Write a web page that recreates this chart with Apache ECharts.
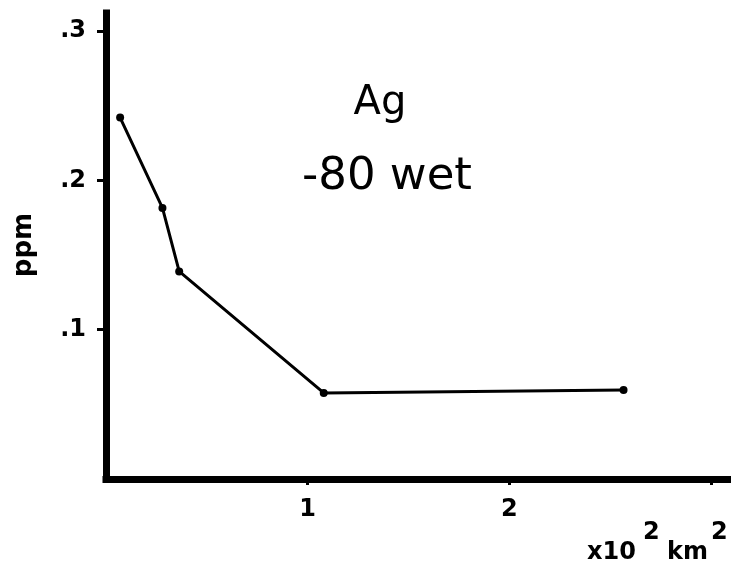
<!DOCTYPE html>
<html><head><meta charset="utf-8">
<script src="https://cdn.jsdelivr.net/npm/echarts@6/dist/echarts.min.js"></script>
<style>html,body{margin:0;padding:0;background:#fff}#c{width:731px;height:571px}</style>
</head><body><div id="c"></div>
<script>
// Data
const areaX = [0.07, 0.28, 0.363, 1.08, 2.567];      // x10^2 km^2
const ppmY  = [0.242, 0.1815, 0.139, 0.0576, 0.0596]; // ppm
const xTickValues = [1, 2, 3];
const xLabelValues = [1, 2];
const yTickValues = [0.1, 0.2, 0.3];
const yTickLabels = ['.1', '.2', '.3'];
const titleLine1 = 'Ag';
const titleLine2 = '-80 wet';
const yName = 'ppm';
const xNameParts = ['x10', '2', 'km', '2'];

const font = 'DejaVu Sans, Liberation Sans, Arial, sans-serif';
const chart = echarts.init(document.getElementById('c'));
function txt(s, x, y, size, weight, align) {
  return {type: 'text', x: x, y: y, style: {text: s, fontSize: size, fontFamily: font, fontWeight: weight || 'normal',
    fill: '#000', align: align || 'left', verticalAlign: 'middle'}};
}
chart.setOption({
  animation: false,
  backgroundColor: '#fff',
  grid: {left: 106, right: 0, top: 13, bottom: 92},
  xAxis: {
    type: 'value', min: 0, max: 3.1,
    splitLine: {show: false},
    axisLine: {lineStyle: {color: '#000', width: 7, cap: 'square'}},
    axisTick: {show: true, length: 6, lineStyle: {color: '#000', width: 3}, customValues: xTickValues},
    axisLabel: {color: '#000', fontSize: 24, fontWeight: 'bold', fontFamily: font, margin: 19, customValues: xLabelValues,
      formatter: v => String(v)}
  },
  yAxis: {
    type: 'value', min: 0, max: 0.312,
    splitLine: {show: false},
    axisLine: {lineStyle: {color: '#000', width: 7, cap: 'square'}},
    axisTick: {show: true, length: 9, lineStyle: {color: '#000', width: 3}, customValues: yTickValues},
    axisLabel: {color: '#000', fontSize: 24, fontWeight: 'bold', fontFamily: font, margin: 20, customValues: yTickValues,
      formatter: v => yTickLabels[yTickValues.findIndex(t => Math.abs(t - v) < 1e-9)] || ''}
  },
  series: [{
    type: 'line',
    data: areaX.map((x, i) => [x, ppmY[i]]),
    symbol: 'circle', symbolSize: 8,
    lineStyle: {color: '#000', width: 3},
    itemStyle: {color: '#000'}
  }],
  graphic: [
    txt(titleLine1, 380, 104, 40, 'normal', 'center'),
    txt(titleLine2, 387, 177, 45, 'normal', 'center'),
    Object.assign(txt(yName, 24, 245, 26, 'bold', 'center'), {rotation: Math.PI / 2}),
    txt(xNameParts[0], 587, 553, 24, 'bold'),
    txt(xNameParts[1], 643, 533, 24, 'bold'),
    txt(xNameParts[2], 667, 553, 24, 'bold'),
    txt(xNameParts[3], 711, 533, 24, 'bold')
  ]
});
</script>
</body></html>
